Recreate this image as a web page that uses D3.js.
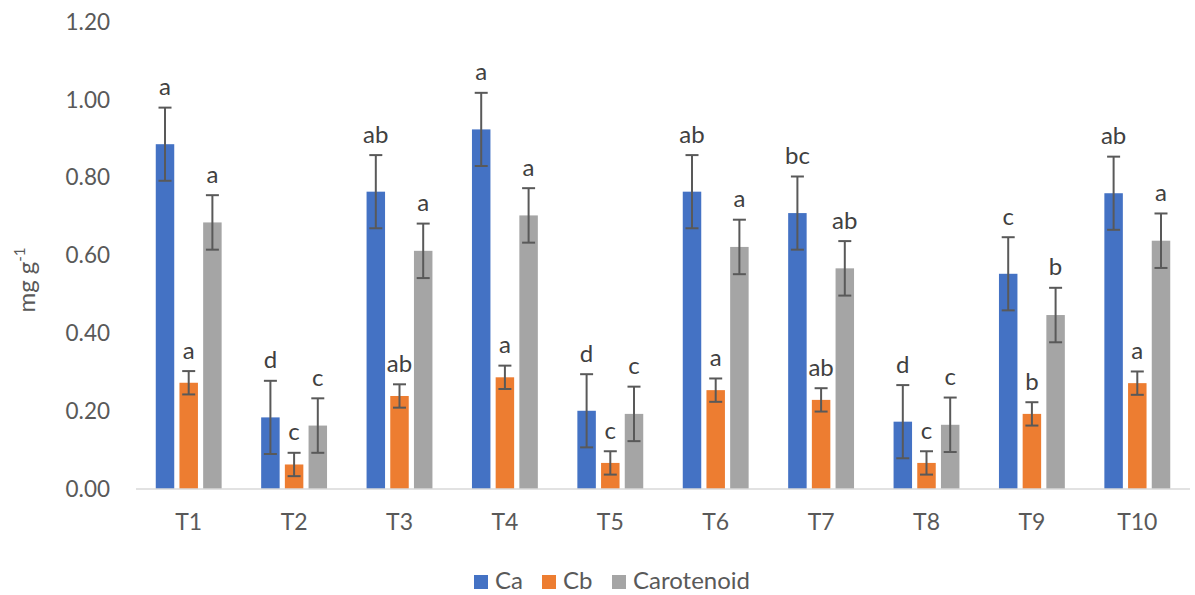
<!DOCTYPE html>
<html>
<head>
<meta charset="utf-8">
<script src="https://cdn.jsdelivr.net/npm/d3@7"></script>
<style>
  html, body { margin: 0; padding: 0; background: #fff; }
  svg { display: block; font-family: Lato, "Open Sans", sans-serif; }
</style>
</head>
<body>
<svg id="chart" width="1195" height="595"></svg>
<script>
// Treatments on the x axis
const categories = ["T1", "T2", "T3", "T4", "T5", "T6", "T7", "T8", "T9", "T10"];
const seriesNames = ["Ca", "Cb", "Carotenoid"];

// Pigment content (mg g-1)
const caValues  = [0.886, 0.184, 0.764, 0.924, 0.201, 0.764, 0.709, 0.173, 0.553, 0.760];
const cbValues  = [0.273, 0.063, 0.239, 0.287, 0.067, 0.254, 0.229, 0.067, 0.193, 0.272];
const carValues = [0.685, 0.163, 0.612, 0.703, 0.193, 0.622, 0.567, 0.165, 0.447, 0.638];

// Error bar half-lengths
const caErr  = [0.094, 0.094, 0.094, 0.094, 0.094, 0.094, 0.094, 0.094, 0.094, 0.094];
const cbErr  = [0.030, 0.030, 0.030, 0.030, 0.030, 0.030, 0.030, 0.030, 0.030, 0.030];
const carErr = [0.070, 0.070, 0.070, 0.070, 0.070, 0.070, 0.070, 0.070, 0.070, 0.070];

// Significance letters
const caLetters  = ["a", "d", "ab", "a", "d", "ab", "bc", "d", "c", "ab"];
const cbLetters  = ["a", "c", "ab", "a", "c", "a", "ab", "c", "b", "a"];
const carLetters = ["a", "c", "a", "a", "c", "a", "ab", "c", "b", "a"];

const yTicks = [0, 0.2, 0.4, 0.6, 0.8, 1.0, 1.2];

const seriesTable = [
  { name: "Ca", values: caValues, err: caErr, letters: caLetters, color: "#4472C4" },
  { name: "Cb", values: cbValues, err: cbErr, letters: cbLetters, color: "#ED7D31" },
  { name: "Carotenoid", values: carValues, err: carErr, letters: carLetters, color: "#A5A5A5" }
];

const svg = d3.select("#chart");
const textColor = "#595959";
const fontFam = "Lato, 'Open Sans', sans-serif";

const plot = { left: 136, right: 1190, top: 22, bottom: 489 };

const y = d3.scaleLinear().domain([0, 1.2]).range([plot.bottom, plot.top]);
const x0 = d3.scaleBand().domain(categories).range([plot.left, plot.right]).paddingInner(0).paddingOuter(0);
const bw = x0.bandwidth();
const groupW = bw * 0.625;
const x1 = d3.scaleBand().domain(seriesNames)
  .range([(bw - groupW) / 2, (bw + groupW) / 2])
  .paddingInner(0.22).paddingOuter(0);

// Y axis labels (no axis line, no ticks)
const yAxis = d3.axisLeft(y).tickValues(yTicks).tickFormat(d3.format(".2f")).tickSize(0).tickPadding(0);
const yg = svg.append("g").attr("transform", `translate(110,0)`).call(yAxis);
yg.select(".domain").remove();
yg.selectAll("text").attr("fill", textColor).attr("font-size", 22.5).attr("font-family", fontFam);

// Bars, error bars and letters
const groups = svg.append("g").selectAll("g.grp")
  .data(categories)
  .join("g")
  .attr("class", "grp")
  .attr("transform", d => `translate(${x0(d)},0)`);

seriesTable.forEach(s => {
  groups.each(function (cat, i) {
    const g = d3.select(this);
    const v = s.values[i], e = s.err[i];
    const bx = x1(s.name), w = x1.bandwidth(), cx = bx + w / 2;
    g.append("rect")
      .attr("x", bx).attr("y", y(v))
      .attr("width", w).attr("height", y(0) - y(v))
      .attr("fill", s.color);
    const ec = "#595959";
    g.append("line").attr("x1", cx).attr("x2", cx).attr("y1", y(v + e)).attr("y2", y(v - e))
      .attr("stroke", ec).attr("stroke-width", 2);
    [v + e, v - e].forEach(t => {
      g.append("line").attr("x1", cx - 6.5).attr("x2", cx + 6.5).attr("y1", y(t)).attr("y2", y(t))
        .attr("stroke", ec).attr("stroke-width", 2);
    });
    g.append("text")
      .attr("x", cx).attr("y", y(v + e) - 12.5)
      .attr("text-anchor", "middle")
      .attr("font-size", 24)
      .attr("fill", "#404040")
      .text(s.letters[i]);
  });
});

// X axis baseline and category labels
svg.append("line")
  .attr("x1", plot.left).attr("x2", plot.right)
  .attr("y1", y(0)).attr("y2", y(0))
  .attr("stroke", "#D9D9D9").attr("stroke-width", 1.5);

const xAxis = d3.axisBottom(x0).tickSize(0).tickPadding(0);
const xg = svg.append("g").attr("transform", `translate(0,${y(0)})`).call(xAxis);
xg.select(".domain").remove();
xg.selectAll("text").attr("fill", textColor).attr("font-size", 23)
  .attr("font-family", fontFam)
  .attr("dy", null).attr("y", 41);

// Y axis title
const yt = svg.append("text")
  .attr("transform", "translate(35,280) rotate(-90)")
  .attr("text-anchor", "middle")
  .attr("fill", textColor)
  .attr("font-size", 24);
yt.append("tspan").text("mg g");
yt.append("tspan").attr("font-size", 15).attr("dy", -10).text("-1");

// Legend
const legendItems = [
  { name: "Ca", x: 474 },
  { name: "Cb", x: 542 },
  { name: "Carotenoid", x: 612 }
];
const lg = svg.append("g");
legendItems.forEach((it, i) => {
  lg.append("rect").attr("x", it.x).attr("y", 575).attr("width", 14).attr("height", 14)
    .attr("fill", seriesTable[i].color);
  lg.append("text").attr("x", it.x + 21).attr("y", 589)
    .attr("fill", textColor).attr("font-size", 24).text(it.name);
});
</script>
</body>
</html>
